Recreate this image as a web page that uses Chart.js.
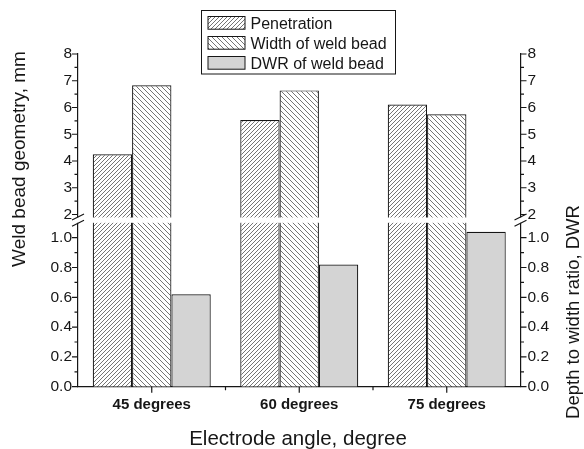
<!DOCTYPE html>
<html>
<head>
<meta charset="utf-8">
<script src="https://cdn.jsdelivr.net/npm/chart.js@4.4.0/dist/chart.umd.min.js"></script>
<style>
html, body { margin: 0; padding: 0; background: #fff; }
#wrap { width: 584px; height: 449px; position: relative; }
</style>
</head>
<body>
<div id="wrap"><canvas id="grafico"></canvas></div>
<script>
// ======================
// DATA
// ======================
const angles = ['45 degrees', '60 degrees', '75 degrees'];
const penetration = [4.25, 5.53, 6.11];
const beadWidth = [6.83, 6.64, 5.75];
const dwr = [0.62, 0.82, 1.04];

const majorTicks = [0, 0.2, 0.4, 0.6, 0.8, 1.0, 2, 3, 4, 5, 6, 7, 8];
const minorTicks = [0.1, 0.3, 0.5, 0.7, 0.9, 2.5, 3.5, 4.5, 5.5, 6.5, 7.5];

const titleLeft = 'Weld bead geometry, mm';
const titleRight = 'Depth to width ratio, DWR';
const titleX = 'Electrode angle, degree';

// break in the y axis: 0..1.1 below, 2..8 above
const LOW_MAX = 1.1, HIGH_MIN = 2, HIGH_MAX = 8;
const LOW_FRAC = 0.4926, HIGH_FRAC = 0.5176;

const FONT = '"Liberation Sans", Arial, Helvetica, sans-serif';
const INK = '#161616';

// ======================
// broken linear scale
// ======================
class BrokenLinear extends Chart.LinearScale {
    getPixelForValue(value) {
        if (value === null || value === undefined || isNaN(value)) return NaN;
        const h = this.bottom - this.top;
        let f;
        if (value <= LOW_MAX) {
            f = value / LOW_MAX * LOW_FRAC;
        } else if (value >= HIGH_MIN) {
            f = HIGH_FRAC + (value - HIGH_MIN) / (HIGH_MAX - HIGH_MIN) * (1 - HIGH_FRAC);
        } else {
            f = LOW_FRAC + (value - LOW_MAX) / (HIGH_MIN - LOW_MAX) * (HIGH_FRAC - LOW_FRAC);
        }
        return this.bottom - f * h;
    }
    getValueForPixel(pixel) {
        const f = (this.bottom - pixel) / (this.bottom - this.top);
        if (f <= LOW_FRAC) return f / LOW_FRAC * LOW_MAX;
        if (f >= HIGH_FRAC) return HIGH_MIN + (f - HIGH_FRAC) / (1 - HIGH_FRAC) * (HIGH_MAX - HIGH_MIN);
        return LOW_MAX + (f - LOW_FRAC) / (HIGH_FRAC - LOW_FRAC) * (HIGH_MIN - LOW_MAX);
    }
}
BrokenLinear.id = 'brokenLinear';
BrokenLinear.defaults = Chart.LinearScale.defaults;
Chart.register(BrokenLinear);

// ======================
// hatch patterns
// ======================
const canvas = document.getElementById('grafico');
const ctx = canvas.getContext('2d');

function hatch(dir, step) {
    const t = document.createElement('canvas');
    t.width = step; t.height = step;
    const g = t.getContext('2d');
    g.fillStyle = '#fff';
    g.fillRect(0, 0, step, step);
    g.strokeStyle = '#3a3a3a';
    g.lineWidth = 0.7;
    g.beginPath();
    if (dir === '/') {
        g.moveTo(0, step); g.lineTo(step, 0);
        g.moveTo(-1, 1); g.lineTo(1, -1);
        g.moveTo(step - 1, step + 1); g.lineTo(step + 1, step - 1);
    } else {
        g.moveTo(0, 0); g.lineTo(step, step);
        g.moveTo(step - 1, -1); g.lineTo(step + 1, 1);
        g.moveTo(-1, step - 1); g.lineTo(1, step + 1);
    }
    g.stroke();
    return ctx.createPattern(t, 'repeat');
}

const fillPen = hatch('/', 4);
const fillWidth = hatch('\\', 5);
const fillDwr = '#d4d4d4';

function yLabel(v) {
    return v >= HIGH_MIN ? String(v) : v.toFixed(1);
}

// ======================
// ticks, break, legend, titles
// ======================
const decor = {
    id: 'decor',
    afterDatasetsDraw(chart) {
        const c = chart.ctx;
        const a = chart.chartArea;
        const yL = chart.scales.y, x = chart.scales.x;

        // white band across the bars and axes at the break
        const bandTop = yL.getPixelForValue(HIGH_MIN) + 3;
        const bandBot = yL.getPixelForValue(LOW_MAX);
        c.save();
        c.fillStyle = '#fff';
        c.fillRect(a.left - 2, bandTop, a.right - a.left + 4, bandBot - bandTop);

        c.strokeStyle = INK;
        c.lineWidth = 1.2;
        c.beginPath();
        majorTicks.forEach(v => {
            const p = yL.getPixelForValue(v);
            c.moveTo(a.left, p); c.lineTo(a.left - 6, p);
            c.moveTo(a.right, p); c.lineTo(a.right + 6, p);
        });
        minorTicks.forEach(v => {
            const p = yL.getPixelForValue(v);
            c.moveTo(a.left, p); c.lineTo(a.left - 3.5, p);
            c.moveTo(a.right, p); c.lineTo(a.right + 3.5, p);
        });
        angles.forEach((_, i) => {
            const p = x.getPixelForValue(i);
            c.moveTo(p, a.bottom); c.lineTo(p, a.bottom + 6);
            if (i < angles.length - 1) {
                const m = (p + x.getPixelForValue(i + 1)) / 2;
                c.moveTo(m, a.bottom); c.lineTo(m, a.bottom + 3.5);
            }
        });
        // break marks
        [a.left, a.right].forEach(ax => {
            [bandTop - 0.5, bandBot + 0.5].forEach(yc => {
                c.moveTo(ax - 6, yc + 3); c.lineTo(ax + 6, yc - 3);
            });
        });
        c.stroke();
        c.restore();
    },
    afterDraw(chart) {
        const c = chart.ctx;
        c.save();

        // legend box
        c.fillStyle = '#fff';
        c.fillRect(201.5, 10.5, 194, 63.5);
        c.strokeStyle = INK;
        c.lineWidth = 1;
        c.strokeRect(201.5, 10.5, 194, 63.5);
        chart.data.datasets.forEach((ds, i) => {
            const top = 16.5 + i * 20;
            c.fillStyle = ds.backgroundColor;
            c.fillRect(208, top, 37, 12.7);
            c.strokeStyle = INK;
            c.strokeRect(208, top, 37, 12.7);
            c.fillStyle = INK;
            c.font = '16px ' + FONT;
            c.textAlign = 'left';
            c.textBaseline = 'alphabetic';
            c.fillText(ds.label, 250.5, top + 12.5);
        });

        // axis titles
        c.fillStyle = INK;
        c.textAlign = 'center';
        c.textBaseline = 'alphabetic';

        c.save();
        c.translate(25, 159);
        c.rotate(-Math.PI / 2);
        c.font = '19px ' + FONT;
        c.fillText(titleLeft, 0, 0);
        c.restore();

        c.save();
        c.translate(579, 312);
        c.rotate(-Math.PI / 2);
        c.font = '18.5px ' + FONT;
        c.fillText(titleRight, 0, 0);
        c.restore();

        c.font = '20.5px ' + FONT;
        c.fillText(titleX, 298, 444.5);

        c.restore();
    }
};

const yAxis = (pos, width, pad) => ({
    type: 'brokenLinear',
    position: pos,
    min: 0,
    max: HIGH_MAX,
    grid: { display: false, drawTicks: false },
    border: { display: true, color: INK, width: 1.2 },
    afterBuildTicks: s => { s.ticks = majorTicks.map(v => ({ value: v })); },
    afterFit: s => { s.width = width; },
    ticks: {
        autoSkip: false,
        padding: pad,
        color: INK,
        font: { family: FONT, size: 15.5 },
        callback: v => yLabel(v)
    }
});

new Chart(canvas, {
    type: 'bar',
    data: {
        labels: angles,
        datasets: [
            {
                label: 'Penetration',
                data: penetration,
                yAxisID: 'y',
                backgroundColor: fillPen,
                borderColor: INK,
                borderWidth: 1.2
            },
            {
                label: 'Width of weld bead',
                data: beadWidth,
                yAxisID: 'y',
                backgroundColor: fillWidth,
                borderColor: INK,
                borderWidth: 1.2
            },
            {
                label: 'DWR of weld bead',
                data: dwr,
                yAxisID: 'y2',
                backgroundColor: fillDwr,
                borderColor: INK,
                borderWidth: 1.2
            }
        ]
    },
    options: {
        responsive: true,
        maintainAspectRatio: false,
        animation: false,
        categoryPercentage: 0.8,
        barPercentage: 1.0,
        layout: { padding: { top: 54, left: 0, right: 0, bottom: 0 }, autoPadding: false },
        plugins: {
            legend: { display: false },
            tooltip: { enabled: false }
        },
        scales: {
            x: {
                grid: { display: false, drawTicks: false },
                border: { display: true, color: INK, width: 1.2 },
                afterFit: s => { s.height = 62.3; },
                ticks: {
                    autoSkip: false,
                    maxRotation: 0,
                    padding: 9,
                    color: INK,
                    font: { family: FONT, size: 15, weight: 'bold' }
                }
            },
            y: yAxis('left', 78, 6),
            y2: yAxis('right', 63.5, 7)
        }
    },
    plugins: [decor]
});
</script>
</body>
</html>
